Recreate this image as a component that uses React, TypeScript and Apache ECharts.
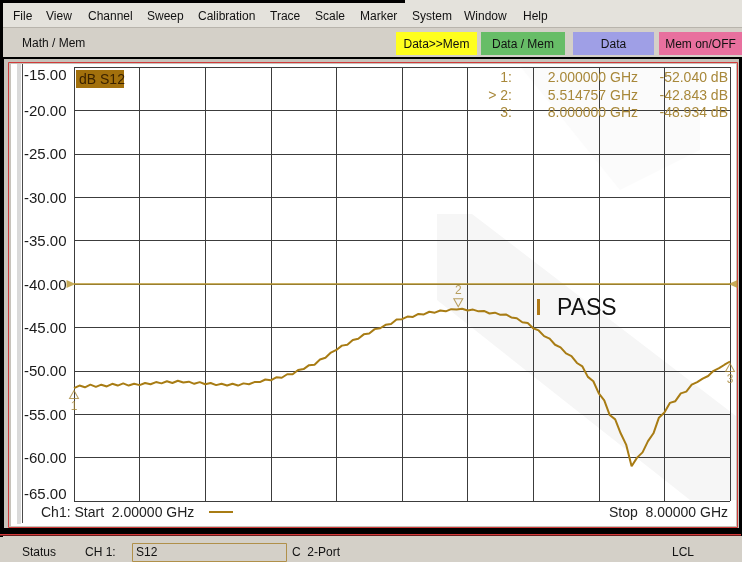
import React, { useEffect, useRef } from 'react';
import * as echarts from 'echarts';

// ---- data ----
const freqGHz = [
  2.0, 2.05, 2.1, 2.15, 2.2, 2.25, 2.3, 2.35, 2.4, 2.45, 2.5, 2.55, 2.6, 2.65, 2.7, 2.75, 2.8, 2.85, 2.9, 2.95,
  3.0, 3.05, 3.1, 3.15, 3.2, 3.25, 3.3, 3.35, 3.4, 3.45, 3.5, 3.55, 3.6, 3.65, 3.7, 3.75, 3.8, 3.85, 3.9, 3.95,
  4.0, 4.05, 4.1, 4.15, 4.2, 4.25, 4.3, 4.35, 4.4, 4.45, 4.5, 4.55, 4.6, 4.65, 4.7, 4.75, 4.8, 4.85, 4.9, 4.95,
  5.0, 5.05, 5.1, 5.15, 5.2, 5.25, 5.3, 5.35, 5.4, 5.45, 5.5, 5.55, 5.6, 5.65, 5.7, 5.75, 5.8, 5.85, 5.9, 5.95,
  6.0, 6.05, 6.1, 6.15, 6.2, 6.25, 6.3, 6.35, 6.4, 6.45, 6.5, 6.55, 6.6, 6.65, 6.7, 6.75, 6.8, 6.85, 6.9, 6.95,
  7.0, 7.05, 7.1, 7.15, 7.2, 7.25, 7.3, 7.35, 7.4, 7.45, 7.5, 7.55, 7.6, 7.65, 7.7, 7.75, 7.8, 7.85, 7.9, 7.95,
  8.0,
];
const s12dB = [
  -52.0, -51.7, -51.9, -51.6, -51.85, -51.6, -51.8, -51.5, -51.7, -51.45, -51.7, -51.5, -51.65, -51.4, -51.55, -51.3, -51.45, -51.2, -51.4, -51.15,
  -51.35, -51.25, -51.5, -51.3, -51.55, -51.4, -51.65, -51.5, -51.7, -51.5, -51.7, -51.45, -51.55, -51.3, -51.3, -51.0, -51.1, -50.75, -50.8, -50.4,
  -50.4, -49.9, -49.8, -49.35, -49.3, -48.7, -48.5, -47.9, -47.6, -47.1, -47.0, -46.45, -46.3, -45.8, -45.7, -45.2, -45.1, -44.7, -44.6, -44.1,
  -44.05, -43.75, -43.8, -43.45, -43.5, -43.2, -43.3, -43.05, -43.15, -42.9, -42.95, -42.85, -43.05, -42.95, -43.15, -43.1, -43.4, -43.3, -43.55, -43.5,
  -43.85, -43.95, -44.4, -44.5, -45.1, -45.35, -46.0, -46.3, -47.0, -47.3, -48.0, -48.3, -49.1, -49.5, -50.7, -51.2, -52.6, -53.4, -55.1, -55.6,
  -57.2, -58.5, -61.0, -60.0, -59.4, -58.1, -57.2, -55.4, -54.8, -53.7, -53.5, -52.6, -52.4, -51.6, -51.3, -50.9, -50.6, -50.0, -49.7, -49.3,
  -48.93,
];
const markerNames = ['1', '2', '3'];
const markerFreqGHz = [2.0, 5.514757, 8.0];
const markerDB = [-52.04, -42.843, -48.934];
const activeMarker = 1;
const limitDB = -40;
const startGHz = 2.0;
const stopGHz = 8.0;
const yMin = -65;
const yMax = -15;
const yStep = 5;
const menuItems = ['File', 'View', 'Channel', 'Sweep', 'Calibration', 'Trace', 'Scale', 'Marker', 'System', 'Window', 'Help'];
const buttonLabels = ['Data>>Mem', 'Data / Mem', 'Data', 'Mem on/OFF'];

// ---- layout / style ----
const W = 742;
const H = 562;
const FONT = 'Liberation Sans, Arial, sans-serif';
const TRACE = '#a87c14';
const OLIVE = '#b8962e';
const READ = '#a8883a';
const menuX = [13, 46, 88, 147, 198, 270, 315, 360, 412, 464, 523];
const buttonBoxes = [
  { x: 396, w: 81, fill: '#ffff1e' },
  { x: 481, w: 84, fill: '#67bd67' },
  { x: 573, w: 81, fill: '#9f9fe6' },
  { x: 659, w: 83, fill: '#e8709e' },
];

export default function App() {
  const ref = useRef<HTMLDivElement>(null);
  useEffect(() => {
    if (!ref.current) return;
    const chart = echarts.init(ref.current, null, { renderer: 'svg' });

    const trace = freqGHz.map((f, i) => [f, s12dB[i]]);
    const markerData = markerFreqGHz.map((f, i) => {
      const down = i === activeMarker;
      return {
        value: [f, markerDB[i]],
        symbolRotate: down ? 180 : 0,
        symbolOffset: down ? [0, -6] : [0, 6],
        label: {
          show: true,
          formatter: markerNames[i],
          position: down ? 'top' : 'bottom',
          distance: down ? 2 : 1,
          color: READ,
          fontSize: 12,
          fontFamily: FONT,
        },
      };
    });

    const readText = (txt: string, x: number, y: number) => ({
      type: 'text', x, y, z: 20,
      style: { text: txt, fill: READ, font: `14px ${FONT}`, textAlign: 'right', textVerticalAlign: 'middle' },
    });
    const readouts: any[] = [];
    markerNames.forEach((n, i) => {
      const y = 77 + i * 17.5;
      readouts.push(readText((i === activeMarker ? '> ' : '') + n + ':', 512, y));
      readouts.push(readText(markerFreqGHz[i].toFixed(6) + ' GHz', 638, y));
      readouts.push(readText(markerDB[i].toFixed(3) + ' dB', 728, y));
    });

    const txt = (t: string, x: number, y: number, size = 12, fill = '#111', align = 'left') => ({
      type: 'text', x, y, z: 20,
      style: { text: t, fill, font: `${size}px ${FONT}`, textAlign: align, textVerticalAlign: 'middle' },
    });

    const graphics: any[] = [
      // window chrome
      { type: 'rect', z: -20, shape: { x: 0, y: 0, width: W, height: H }, style: { fill: '#d4d0c8' } },
      { type: 'rect', z: -20, shape: { x: 0, y: 0, width: W, height: 27 }, style: { fill: '#e4e2dc' } },
      { type: 'rect', z: -20, shape: { x: 0, y: 0, width: 405, height: 3 }, style: { fill: '#000' } },
      { type: 'rect', z: -20, shape: { x: 0, y: 27, width: W, height: 1 }, style: { fill: '#b8b4ac' } },
      { type: 'rect', z: -20, shape: { x: 0, y: 0, width: 3, height: 537 }, style: { fill: '#000' } },
      { type: 'rect', z: -20, shape: { x: 0, y: 57, width: W, height: 479 }, style: { fill: '#000' } },
      { type: 'rect', z: -19, shape: { x: 4, y: 59, width: 735, height: 469 }, style: { fill: '#c6c2ba' } },
      { type: 'rect', z: -18, shape: { x: 8.5, y: 62.5, width: 729, height: 465 }, style: { fill: 'none', stroke: '#d23a3a', lineWidth: 1 } },
      { type: 'rect', z: -18, shape: { x: 11, y: 64, width: 725, height: 462 }, style: { fill: '#ffffff' } },
      { type: 'rect', z: -18, shape: { x: 0, y: 534, width: 741, height: 1.5 }, style: { fill: '#d23a3a' } },
      { type: 'rect', z: -17, shape: { x: 17, y: 64, width: 4, height: 460 }, style: { fill: '#dadada' } },
      { type: 'line', z: -17, shape: { x1: 22.5, y1: 64, x2: 22.5, y2: 523 }, style: { stroke: '#4a4a4a', lineWidth: 1 } },
      // faint watermark
      { type: 'polygon', z: -16, shape: { points: [[437, 214], [472, 214], [736, 416], [736, 500], [690, 500], [437, 300]] }, style: { fill: '#f6f6f6' } },
      { type: 'polygon', z: -16, shape: { points: [[520, 66], [700, 66], [700, 150], [620, 190]] }, style: { fill: '#fbfbfb' } },
      // menu
      ...menuItems.map((m, i) => txt(m, menuX[i], 16, 12, '#111')),
      txt('Math / Mem', 22, 43, 12, '#111'),
      ...buttonLabels.flatMap((b, i) => {
        const bx = buttonBoxes[i];
        return [
          { type: 'rect', z: 10, shape: { x: bx.x, y: 32, width: bx.w, height: 23 }, style: { fill: bx.fill } },
          txt(b, bx.x + bx.w / 2, 44, 12, '#111', 'center'),
        ];
      }),
      // trace label
      { type: 'rect', z: 10, shape: { x: 76, y: 70, width: 48, height: 18 }, style: { fill: '#a2700c' } },
      txt('dB S12', 79, 79, 14, '#3a2200'),
      ...readouts,
      // PASS
      { type: 'rect', z: 10, shape: { x: 537, y: 299, width: 3, height: 16 }, style: { fill: '#b07a18' } },
      txt('PASS', 557, 307, 23, '#111'),
      // bottom sweep info
      txt(`Ch1: Start  ${startGHz.toFixed(5)} GHz`, 41, 512, 14, '#222'),
      { type: 'line', z: 10, shape: { x1: 209, y1: 512, x2: 233, y2: 512 }, style: { stroke: TRACE, lineWidth: 2 } },
      txt(`Stop  ${stopGHz.toFixed(5)} GHz`, 728, 512, 14, '#222', 'right'),
      // status bar
      txt('Status', 22, 552, 12, '#111'),
      txt('CH 1:', 85, 552, 12, '#111'),
      { type: 'rect', z: 10, shape: { x: 132.5, y: 543.5, width: 154, height: 18 }, style: { fill: '#d4d0c8', stroke: '#b0904a', lineWidth: 1 } },
      txt('S12', 136, 552, 12, '#111'),
      txt('C  2-Port', 292, 552, 12, '#111'),
      txt('LCL', 672, 552, 12, '#111'),
    ];

    chart.setOption({
      animation: false,
      grid: { left: 74, top: 67, width: 656, height: 434 },
      xAxis: [
        { type: 'value', min: startGHz, max: stopGHz, show: false },
        {
          type: 'value', min: 0, max: 10, interval: 1, position: 'top',
          axisLine: { show: false }, axisTick: { show: false }, axisLabel: { show: false },
          splitLine: { show: true, lineStyle: { color: '#3c3c3c', width: 1 } },
        },
      ],
      yAxis: {
        type: 'value', min: yMin, max: yMax, interval: yStep,
        axisLine: { show: false }, axisTick: { show: false },
        splitLine: { show: true, lineStyle: { color: '#3c3c3c', width: 1 } },
        axisLabel: {
          formatter: (v: number) => v.toFixed(2),
          align: 'left', margin: 50, fontSize: 15, color: '#1a1a1a', fontFamily: FONT,
          verticalAlignMinLabel: 'bottom', verticalAlignMaxLabel: 'top',
        },
      },
      graphic: graphics,
      series: [
        {
          type: 'line', xAxisIndex: 0, data: [[startGHz, limitDB], [stopGHz, limitDB]],
          showSymbol: false, lineStyle: { color: OLIVE, width: 1.5 }, silent: true, z: 3,
        },
        {
          type: 'scatter', xAxisIndex: 0, clip: false, silent: true, z: 4,
          symbol: 'triangle', symbolSize: [8, 9], itemStyle: { color: OLIVE },
          data: [
            { value: [startGHz, limitDB], symbolRotate: -90, symbolOffset: [-3, 0] },
            { value: [stopGHz, limitDB], symbolRotate: 90, symbolOffset: [3, 0] },
          ],
        },
        {
          type: 'line', xAxisIndex: 0, data: trace, showSymbol: false,
          lineStyle: { color: TRACE, width: 2 }, z: 5, clip: false,
        },
        {
          type: 'scatter', xAxisIndex: 0, clip: false, z: 6,
          symbol: 'triangle', symbolSize: [9, 8],
          itemStyle: { color: 'rgba(255,255,255,0)', borderColor: READ, borderWidth: 1 },
          data: markerData,
        },
      ],
    });
    return () => chart.dispose();
  }, []);
  return <div ref={ref} style={{ position: 'fixed', left: 0, top: 0, width: W, height: H }} />;
}
